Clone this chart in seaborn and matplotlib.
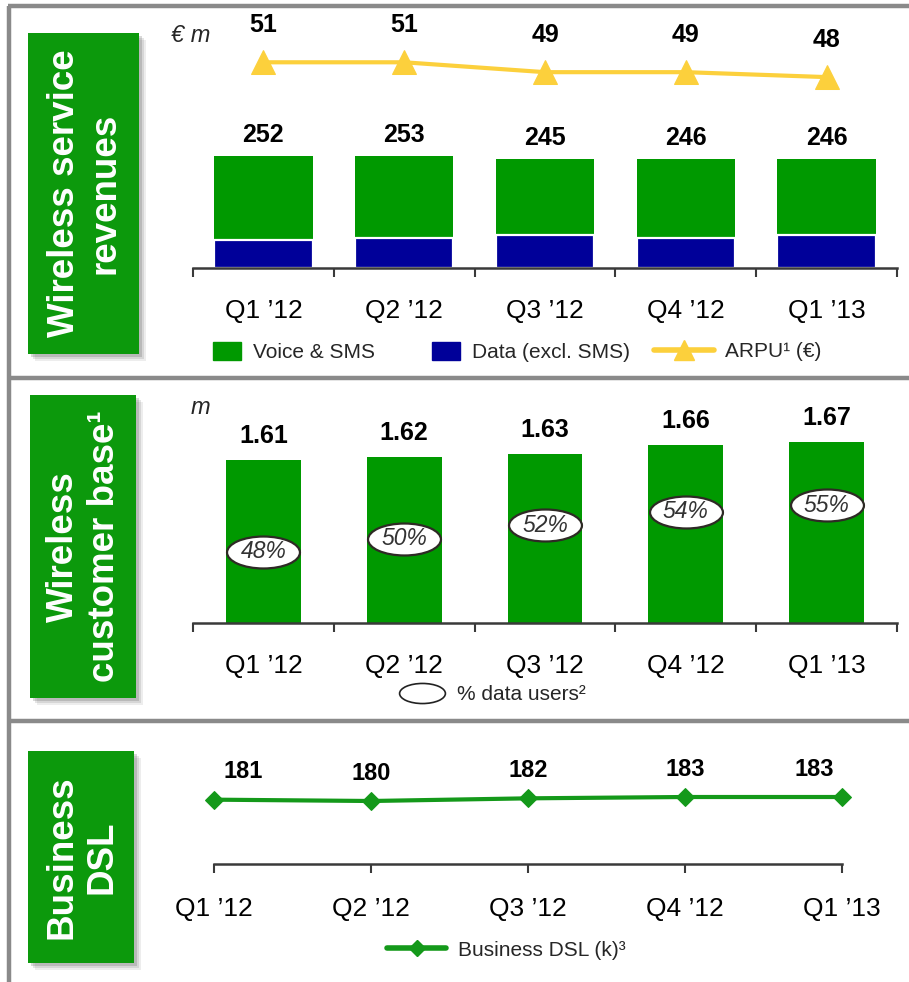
import numpy as np
import pandas as pd
import matplotlib
matplotlib.use("Agg")
import matplotlib.pyplot as plt
from matplotlib.patches import Rectangle, Patch
from matplotlib.lines import Line2D
from matplotlib.path import Path
from matplotlib.transforms import Affine2D
import seaborn as sns

# ---------------- data ----------------
quarters = ["Q1 \u201912", "Q2 \u201912", "Q3 \u201912", "Q4 \u201912", "Q1 \u201913"]
revenue_total = [252, 253, 245, 246, 246]
revenue_data = [63, 68, 75, 67, 74]
arpu = [51, 51, 49, 49, 48]
customers = [1.61, 1.62, 1.63, 1.66, 1.67]
data_users_pct = [48, 50, 52, 54, 55]
business_dsl = [181, 180, 182, 183, 183]

panel_titles = ["Wireless service\nrevenues", "Wireless\ncustomer base\u00b9", "Business\nDSL"]

# ---------------- style ----------------
W, H = 909, 982
GREEN = "#009900"
BLUE = "#000099"
GOLD = "#FCD03C"
LINEGREEN = "#14991A"
BOXGREEN = "#0C990C"
FRAME = "#8A8A8A"
AXCOL = "#3A3A3A"

sns.set_theme(style="white")
plt.rcParams["font.family"] = ["Liberation Sans", "DejaVu Sans"]

fig = plt.figure(figsize=(W / 100, H / 100), dpi=100)


def rect(x0, y0, x1, y1):
    return [x0 / W, 1 - y1 / H, (x1 - x0) / W, (y1 - y0) / H]


def fx(x):
    return x / W


def fy(y):
    return 1 - y / H


# ---------------- frame lines ----------------
for (x0, y0, x1, y1) in [(8, 6, 909, 6), (9, 6, 9, 982), (9, 378, 909, 378), (9, 721, 909, 721)]:
    fig.add_artist(Line2D([fx(x0), fx(x1)], [fy(y0), fy(y1)], color=FRAME, lw=3.2,
                          transform=fig.transFigure, solid_capstyle="butt"))

# ---------------- green title boxes ----------------
boxes = [(28, 33, 139, 354), (30, 395, 136, 698), (28, 751, 134, 963)]
for (x0, y0, x1, y1), title in zip(boxes, panel_titles):
    for k, a in zip([7, 5, 3], [0.10, 0.15, 0.22]):
        fig.add_artist(Rectangle((fx(x0 + k), fy(y1 + k)), (x1 - x0) / W, (y1 - y0) / H,
                                 transform=fig.transFigure, facecolor="#555555", alpha=a,
                                 edgecolor="none"))
    fig.add_artist(Rectangle((fx(x0), fy(y1)), (x1 - x0) / W, (y1 - y0) / H,
                             transform=fig.transFigure, facecolor=BOXGREEN, edgecolor="none"))
    fig.text(fx((x0 + x1) / 2 + 1), fy((y0 + y1) / 2), title, rotation=90, color="white",
             fontsize=26.5, fontweight="bold", ha="center", va="center",
             multialignment="center", linespacing=1.2)


def style_axis(ax):
    for s in ["top", "left", "right"]:
        ax.spines[s].set_visible(False)
    ax.spines["bottom"].set_color(AXCOL)
    ax.spines["bottom"].set_linewidth(1.8)
    ax.set_yticks([])
    ax.set_ylabel("")
    ax.set_xlabel("")
    ax.patch.set_alpha(0)


# ---------------- panel 1: wireless service revenues ----------------
ax1 = fig.add_axes(rect(193, 20, 897, 268))
df1 = pd.DataFrame({"quarter": quarters, "total": revenue_total, "data": revenue_data})
sns.barplot(data=df1, x="quarter", y="total", color=GREEN, saturation=1, width=0.7,
            edgecolor="none", ax=ax1)
sns.barplot(data=df1, x="quarter", y="data", color=BLUE, saturation=1, width=0.7,
            edgecolor="white", linewidth=1.6, ax=ax1)
ax1.set_xlim(-0.5, 4.5)
ax1.set_ylim(0, 558.6)
style_axis(ax1)
ax1.set_xticks(np.arange(-0.5, 5.0, 1.0))
ax1.set_xticklabels([])
ax1.set_xticks(np.arange(5), minor=True)
ax1.set_xticklabels(quarters, minor=True)
ax1.tick_params(axis="x", which="major", bottom=True, length=6.5, width=1.5, color=AXCOL,
                direction="out")
ax1.tick_params(axis="x", which="minor", bottom=True, length=0, pad=22.5, labelsize=19,
                labelcolor="black")
for i, v in enumerate(revenue_total):
    ax1.annotate(str(v), (i, v), xytext=(0, 15), textcoords="offset points", ha="center",
                 va="center", fontsize=18, fontweight="bold", color="black")

ax1b = ax1.twinx()
sns.lineplot(x=np.arange(5), y=arpu, ax=ax1b, color=GOLD, lw=3, marker="^", markersize=17,
             markeredgecolor=GOLD, clip_on=False)
ax1b.set_ylim(9.36, 59.56)
ax1b.set_xlim(-0.5, 4.5)
for s in ax1b.spines.values():
    s.set_visible(False)
ax1b.set_yticks([])
ax1b.set_ylabel("")
for i, v in enumerate(arpu):
    ax1b.annotate(str(v), (i, v), xytext=(0, 26.5), textcoords="offset points", ha="center",
                  va="center", fontsize=18, fontweight="bold", color="black")

fig.text(fx(171), fy(36), "\u20ac m", fontsize=17, fontstyle="italic", va="center", ha="left")

leg_kw = dict(loc="center left", bbox_transform=fig.transFigure, frameon=False, borderpad=0,
              borderaxespad=0, fontsize=15)
fig.legend(handles=[Patch(facecolor=GREEN, edgecolor=GREEN)], labels=["Voice & SMS"],
           bbox_to_anchor=(fx(213), fy(352)), handlelength=1.35, handleheight=0.96,
           handletextpad=0.58, **leg_kw)
fig.legend(handles=[Patch(facecolor=BLUE, edgecolor=BLUE)], labels=["Data (excl. SMS)"],
           bbox_to_anchor=(fx(432), fy(352)), handlelength=1.35, handleheight=0.96,
           handletextpad=0.58, **leg_kw)
fig.legend(handles=[Line2D([], [], color=GOLD, lw=4, marker="^", markersize=15,
                           markeredgecolor=GOLD)],
           labels=["ARPU\u00b9 (\u20ac)"], bbox_to_anchor=(fx(654), fy(352)),
           handlelength=2.9, handletextpad=0.53, **leg_kw)

# ---------------- panel 2: wireless customer base ----------------
ax2 = fig.add_axes(rect(193, 400, 897, 623))
df2 = pd.DataFrame({"quarter": quarters, "customers": customers, "pct": data_users_pct})
sns.barplot(data=df2, x="quarter", y="customers", color=GREEN, saturation=1, width=0.53,
            edgecolor="none", ax=ax2)
ax2.set_xlim(-0.5, 4.5)
ax2.set_ylim(1.067, 1.067 + 223 / 300)
style_axis(ax2)
ax2.set_xticks(np.arange(-0.5, 5.0, 1.0))
ax2.set_xticklabels([])
ax2.set_xticks(np.arange(5), minor=True)
ax2.set_xticklabels(quarters, minor=True)
ax2.tick_params(axis="x", which="major", bottom=True, length=6.5, width=1.5, color=AXCOL,
                direction="out")
ax2.tick_params(axis="x", which="minor", bottom=True, length=0, pad=22.5, labelsize=19,
                labelcolor="black")
for i, v in enumerate(customers):
    ax2.annotate(f"{v:.2f}", (i, v), xytext=(0, 17), textcoords="offset points", ha="center",
                 va="center", fontsize=18, fontweight="bold", color="black")

ell = Path.unit_circle().transformed(Affine2D().scale(1.0, 32 / 73))
ax2b = ax2.twinx()
ax2b.set_ylim(37.42, 70.65)
ax2b.set_xlim(-0.5, 4.5)
sns.scatterplot(x=np.arange(5), y=data_users_pct, ax=ax2b, marker=ell, s=52.5 ** 2,
                color="white", edgecolor="#2E2A25", linewidth=1.6, legend=False)
for s in ax2b.spines.values():
    s.set_visible(False)
ax2b.set_yticks([])
ax2b.set_ylabel("")
for i, p in enumerate(data_users_pct):
    ax2b.annotate(f"{p}%", (i, p), ha="center", va="center", fontsize=16.5,
                  fontstyle="italic", color="#333333")

fig.text(fx(191), fy(407), "m", fontsize=17, fontstyle="italic", va="center", ha="left")
fig.legend(handles=[Line2D([], [], marker=ell, markersize=33, linestyle="none",
                           markerfacecolor="white", markeredgecolor="#222222",
                           markeredgewidth=1.2)],
           labels=["% data users\u00b2"], bbox_to_anchor=(fx(399), fy(695)),
           handlelength=2.2, handletextpad=0.6, **leg_kw)

# ---------------- panel 3: business DSL ----------------
ax3 = fig.add_axes(rect(214, 760, 842, 864))
sns.lineplot(x=np.arange(5), y=business_dsl, ax=ax3, color=LINEGREEN, lw=3, marker="D",
             markersize=9, markeredgecolor=LINEGREEN, clip_on=False)
ax3.set_xlim(0, 4)
ax3.set_ylim(132.75, 210.75)
style_axis(ax3)
ax3.set_xticks(np.arange(5))
ax3.set_xticklabels(quarters)
ax3.tick_params(axis="x", which="major", bottom=True, length=6.5, width=1.5, color=AXCOL,
                direction="out", pad=17.5, labelsize=19, labelcolor="black")
dx = [21, 0, 0, 0, -20]
for i, v in enumerate(business_dsl):
    ax3.annotate(str(v), (i, v), xytext=(dx[i], 20), textcoords="offset points", ha="center",
                 va="center", fontsize=17, fontweight="bold", color="black")

fig.legend(handles=[Line2D([], [], color=LINEGREEN, lw=4, marker="D", markersize=8,
                           markeredgecolor=LINEGREEN)],
           labels=["Business DSL (k)\u00b3"], bbox_to_anchor=(fx(387), fy(950)),
           handlelength=2.85, handletextpad=0.58, **leg_kw)

fig.savefig("out.png", dpi=100)
